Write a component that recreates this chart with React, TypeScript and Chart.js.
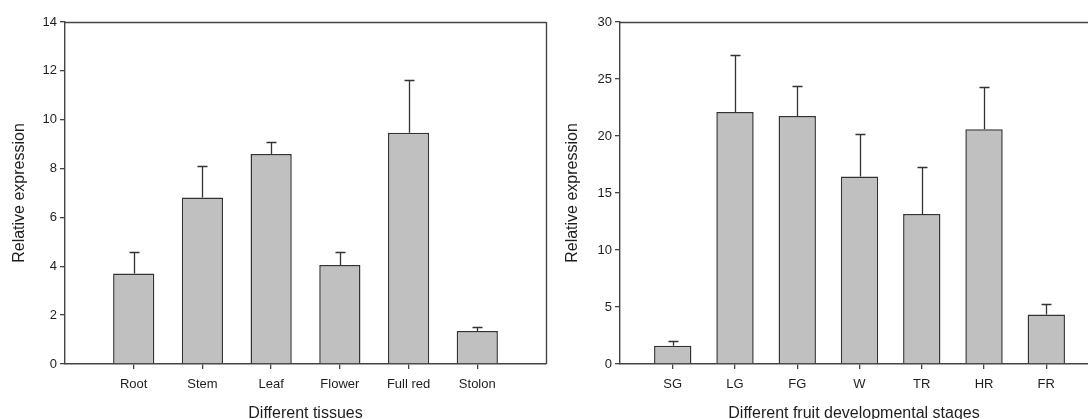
import React, { useEffect, useRef } from "react";
import { Chart, registerables } from "chart.js";

Chart.register(...registerables);

const tissueLabels = ["Root", "Stem", "Leaf", "Flower", "Full red", "Stolon"];
const tissueValues = [3.7, 6.82, 8.6, 4.05, 9.47, 1.35];
const tissueErrors = [0.9, 1.3, 0.5, 0.55, 2.15, 0.17];
const tissueTicks = [0, 2, 4, 6, 8, 10, 12, 14];

const stageLabels = ["SG", "LG", "FG", "W", "TR", "HR", "FR"];
const stageValues = [1.6, 22.1, 21.75, 16.45, 13.15, 20.6, 4.35];
const stageErrors = [0.4, 5.0, 2.65, 3.75, 4.1, 3.7, 0.95];
const stageTicks = [0, 5, 10, 15, 20, 25, 30];

const FONT = "'Liberation Sans', Arial, sans-serif";
const TEXT = "#1e1e1e";
const AXIS = "#444";

function makeErrorPlugin(values: number[], errors: number[]) {
  return {
    id: "errbars",
    afterDatasetsDraw(chart: any) {
      const { ctx } = chart;
      const xs = chart.scales.x;
      const ys = chart.scales.y;
      ctx.save();
      ctx.strokeStyle = "#333";
      ctx.lineWidth = 1.3;
      values.forEach((v, i) => {
        const x = Math.round(xs.getPixelForValue(i + 1)) + 0.5;
        const y0 = ys.getPixelForValue(v);
        const y1 = Math.round(ys.getPixelForValue(v + errors[i])) + 0.5;
        ctx.beginPath();
        ctx.moveTo(x, y0);
        ctx.lineTo(x, y1);
        ctx.moveTo(x - 5, y1);
        ctx.lineTo(x + 5, y1);
        ctx.stroke();
      });
      ctx.restore();
    },
  };
}

function makeFramePlugin(drawRight: boolean) {
  return {
    id: "frame",
    afterDraw(chart: any) {
      const { ctx, chartArea } = chart;
      ctx.save();
      ctx.strokeStyle = AXIS;
      ctx.lineWidth = 1.4;
      ctx.beginPath();
      const t = Math.round(chartArea.top) + 0.5;
      ctx.moveTo(chartArea.left, t);
      ctx.lineTo(chartArea.right, t);
      if (drawRight) {
        const r = Math.round(chartArea.right) + 0.5;
        ctx.moveTo(r, chartArea.top);
        ctx.lineTo(r, chartArea.bottom);
      }
      ctx.stroke();
      ctx.restore();
    },
  };
}

interface PanelProps {
  labels: string[];
  values: number[];
  errors: number[];
  yTicks: number[];
  xTitle: string;
  xMin: number;
  xMax: number;
  yAxisWidth: number;
  yTitlePad: number;
  rightPad: number;
  width: number;
  drawRight: boolean;
  left: number;
}

function Panel(p: PanelProps) {
  const ref = useRef<HTMLCanvasElement | null>(null);
  useEffect(() => {
    if (!ref.current) return;
    const chart = new Chart(ref.current, {
      type: "bar",
      data: {
        datasets: [
          {
            data: p.values.map((v, i) => ({ x: i + 1, y: v })),
            backgroundColor: "#c0c0c0",
            borderColor: "#333",
            borderWidth: 1.5,
            barPercentage: 0.6,
            categoryPercentage: 1,
          },
        ],
      },
      options: {
        responsive: false,
        animation: false,
        devicePixelRatio: 1,
        layout: { padding: { top: 22, right: p.rightPad, left: 0, bottom: 0 } },
        plugins: { legend: { display: false }, tooltip: { enabled: false } },
        scales: {
          x: {
            type: "linear",
            offset: false,
            min: p.xMin,
            max: p.xMax,
            afterFit: (s: any) => {
              s.height = 55;
            },
            afterBuildTicks: (s: any) => {
              s.ticks = p.labels.map((_, i) => ({ value: i + 1 }));
            },
            grid: {
              offset: false,
              drawOnChartArea: false,
              drawTicks: true,
              tickLength: 5,
              color: AXIS,
              lineWidth: 1.3,
            },
            border: { display: true, color: AXIS, width: 1.4 },
            ticks: {
              padding: 8,
              color: TEXT,
              font: { family: FONT, size: 13 },
              maxRotation: 0,
              autoSkip: false,
              callback: (v: any) => p.labels[Math.round(Number(v)) - 1] ?? "",
            },
            title: {
              display: true,
              text: p.xTitle,
              color: TEXT,
              font: { family: FONT, size: 16, lineHeight: 0.7 },
              padding: { top: 0, bottom: 0 },
            },
          },
          y: {
            type: "linear",
            min: p.yTicks[0],
            max: p.yTicks[p.yTicks.length - 1],
            afterFit: (s: any) => {
              s.width = p.yAxisWidth;
            },
            afterBuildTicks: (s: any) => {
              s.ticks = p.yTicks.map((v) => ({ value: v }));
            },
            grid: {
              drawOnChartArea: false,
              drawTicks: true,
              tickLength: 5,
              color: AXIS,
              lineWidth: 1.3,
            },
            border: { display: true, color: AXIS, width: 1.4 },
            ticks: {
              padding: 3,
              color: TEXT,
              font: { family: FONT, size: 13 },
            },
            title: {
              display: true,
              text: "Relative expression",
              color: TEXT,
              font: { family: FONT, size: 16, lineHeight: 1.2 },
              padding: { top: p.yTitlePad, bottom: 0 },
            },
          },
        },
      } as any,
      plugins: [makeErrorPlugin(p.values, p.errors), makeFramePlugin(p.drawRight)],
    });
    return () => chart.destroy();
  }, []);
  return (
    <canvas
      ref={ref}
      width={p.width}
      height={419}
      style={{ position: "absolute", left: p.left, top: 0, width: p.width, height: 419 }}
    />
  );
}

export default function App() {
  return (
    <div
      style={{
        position: "absolute",
        left: 0,
        top: 0,
        width: 1088,
        height: 419,
        background: "#fff",
        overflow: "hidden",
      }}
    >
      <Panel
        labels={tissueLabels}
        values={tissueValues}
        errors={tissueErrors}
        yTicks={tissueTicks}
        xTitle="Different tissues"
        xMin={0}
        xMax={7}
        yAxisWidth={65}
        yTitlePad={10}
        rightPad={14}
        width={560}
        drawRight={true}
        left={0}
      />
      <Panel
        labels={stageLabels}
        values={stageValues}
        errors={stageErrors}
        yTicks={stageTicks}
        xTitle="Different fruit developmental stages"
        xMin={0.153}
        xMax={7.67}
        yAxisWidth={60}
        yTitlePad={3}
        rightPad={0}
        width={528}
        drawRight={false}
        left={560}
      />
    </div>
  );
}
